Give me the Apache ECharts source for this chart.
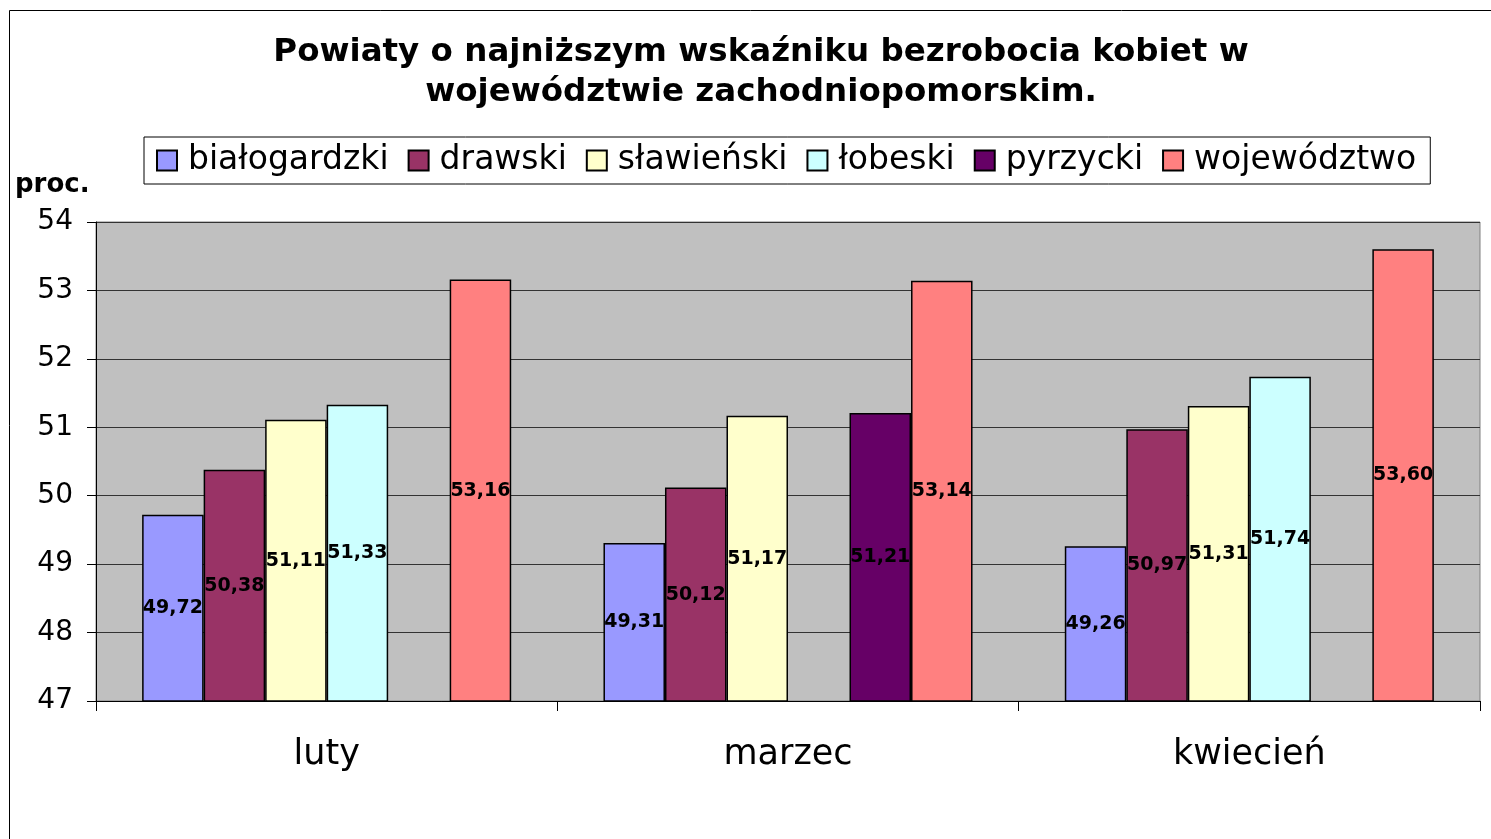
<!DOCTYPE html>
<html>
<head>
<meta charset="utf-8">
<script src="https://cdn.jsdelivr.net/npm/echarts@6/dist/echarts.min.js"></script>
<style>
  html, body { margin: 0; padding: 0; background: #fff; }
  #main { width: 1491px; height: 839px; }
</style>
</head>
<body>
<div id="main"></div>
<script>
// data
const months = ['luty', 'marzec', 'kwiecień'];
const bialogardzki = [49.72, 49.31, 49.26];
const drawski = [50.38, 50.12, 50.97];
const slawienski = [51.11, 51.17, 51.31];
const lobeski = [51.33, null, 51.74];
const pyrzycki = [null, 51.21, null];
const wojewodztwo = [53.16, 53.14, 53.60];
const yTicks = [47, 48, 49, 50, 51, 52, 53, 54];

const seriesNames = ['białogardzki', 'drawski', 'sławieński', 'łobeski', 'pyrzycki', 'województwo'];
const seriesData = [bialogardzki, drawski, slawienski, lobeski, pyrzycki, wojewodztwo];
const colors = ['#9999FF', '#993366', '#FFFFCC', '#CCFFFF', '#660066', '#FF8080'];

const FONT = 'DejaVu Sans';

var chart = echarts.init(document.getElementById('main'));

let series = seriesNames.map((name, i) => ({
    name: name,
    type: 'bar',
    barGap: '0%',
    barCategoryGap: '20%',
    data: seriesData[i],
    itemStyle: { color: colors[i], borderColor: '#000', borderWidth: 1.5 },
    label: {
        show: true,
        position: 'inside',
        color: '#000',
        fontFamily: FONT,
        fontWeight: 'bold',
        fontSize: 19,
        formatter: p => p.value == null ? '' : p.value.toFixed(2).replace('.', ',')
    }
}));

var option = {
    animation: false,
    textStyle: { fontFamily: FONT },
    title: {
        text: 'Powiaty o najniższym wskaźniku bezrobocia kobiet w\nwojewództwie zachodniopomorskim.',
        left: 756,
        textAlign: 'center',
        top: 28,
        textStyle: { fontSize: 32.5, fontWeight: 'bold', color: '#000', lineHeight: 40, fontFamily: FONT }
    },
    legend: {
        top: 137,
        left: 144,
        padding: [7, 14, 7, 12],
        itemGap: 19,
        itemWidth: 20,
        itemHeight: 20,
        icon: 'rect',
        borderColor: '#000',
        borderWidth: 1,
        textStyle: { fontSize: 33, color: '#000', fontFamily: FONT, lineHeight: 32, padding: [0, 0, 0, 6] },
        data: seriesNames
    },
    grid: { left: 96, right: 11, top: 222, bottom: 138, show: true, backgroundColor: '#C0C0C0', borderColor: '#808080', borderWidth: 1 },
    xAxis: {
        type: 'category',
        data: months,
        axisLine: { lineStyle: { color: '#000', width: 1 } },
        axisTick: { show: true, length: 10, lineStyle: { color: '#000' } },
        axisLabel: { fontSize: 35, color: '#000', margin: 36, fontFamily: FONT }
    },
    yAxis: {
        type: 'value',
        min: yTicks[0],
        max: yTicks[yTicks.length - 1],
        interval: 1,
        axisLine: { show: true, lineStyle: { color: '#000' } },
        axisTick: { show: true, length: 9, lineStyle: { color: '#000' } },
        axisLabel: { fontSize: 28, color: '#000', margin: 23, fontFamily: FONT },
        splitLine: { lineStyle: { color: '#333', width: 1 } }
    },
    graphic: [
        { type: 'rect', shape: { x: 9.5, y: 10.5, width: 1600, height: 1000 }, style: { fill: 'none', stroke: '#000', lineWidth: 1 }, z: -10 },
        { type: 'text', left: 15, top: 172, style: { text: 'proc.', font: 'bold 26px "DejaVu Sans"', fill: '#000' } }
    ],
    series: series
};

chart.setOption(option);
</script>
</body>
</html>
